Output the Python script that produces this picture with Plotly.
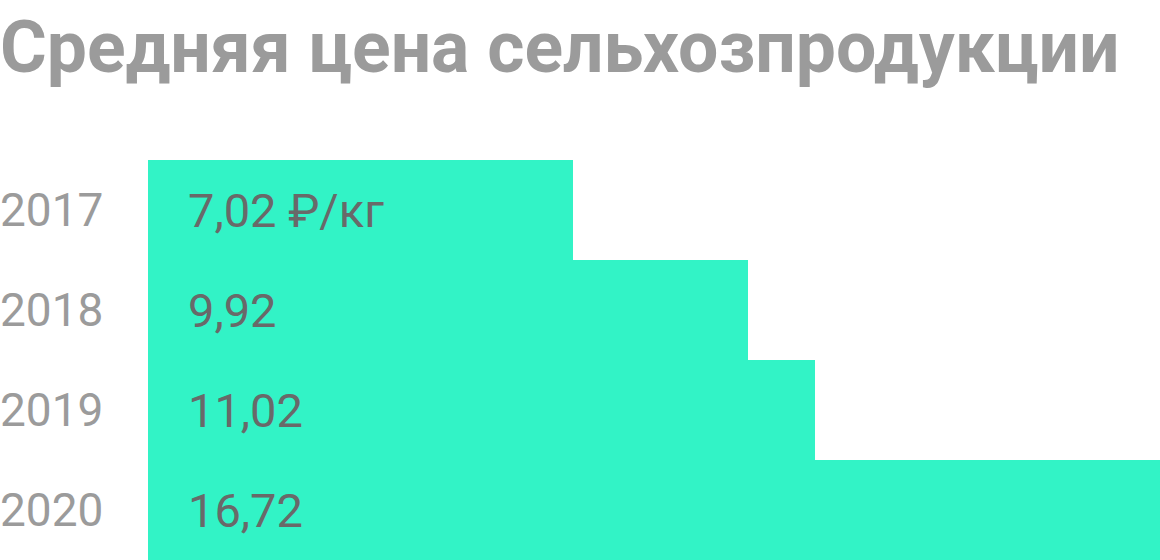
import plotly.graph_objects as go

years = ["2017", "2018", "2019", "2020"]
values = [7.02, 9.92, 11.02, 16.72]
value_labels = ["7,02 ₽/кг", "9,92", "11,02", "16,72"]
title = "Средняя цена сельхозпродукции"

fig = go.Figure(go.Bar(
    x=values, y=years, orientation="h",
    marker=dict(color="#32F3C6", line=dict(width=0)),
    hoverinfo="skip",
))

for i, (y, lab) in enumerate(zip(years, value_labels)):
    fig.add_annotation(x=0, y=i, xref="x", yref="y", text=lab, showarrow=False,
                       xanchor="left", yanchor="middle", xshift=38,
                       font=dict(family="Roboto", size=47, color="#696969"))
    fig.add_annotation(x=-148/1012, y=i, xref="paper", yref="y", text=y, showarrow=False,
                       xanchor="left", yanchor="middle", xshift=-2,
                       font=dict(family="Roboto", size=46, color="#9B9B9B"))

fig.add_annotation(x=-148/1012, y=(560-48)/400, xref="paper", yref="paper", text="<b>"+title+"</b>",
                   showarrow=False, xanchor="left", yanchor="middle", xshift=-2,
                   font=dict(family="Roboto", size=71.5, color="#9B9B9B"))

fig.update_layout(
    width=1160, height=560,
    margin=dict(l=148, r=0, t=160, b=0),
    paper_bgcolor="white", plot_bgcolor="white",
    bargap=0, showlegend=False,
    xaxis=dict(range=[0, max(values)], visible=False, fixedrange=True),
    yaxis=dict(type="category", categoryorder="array", categoryarray=years,
               range=[3.5, -0.5], visible=False, fixedrange=True),
)
fig.write_html("out.html", config={"displayModeBar": False},
               post_script="document.body.style.margin='0';")
